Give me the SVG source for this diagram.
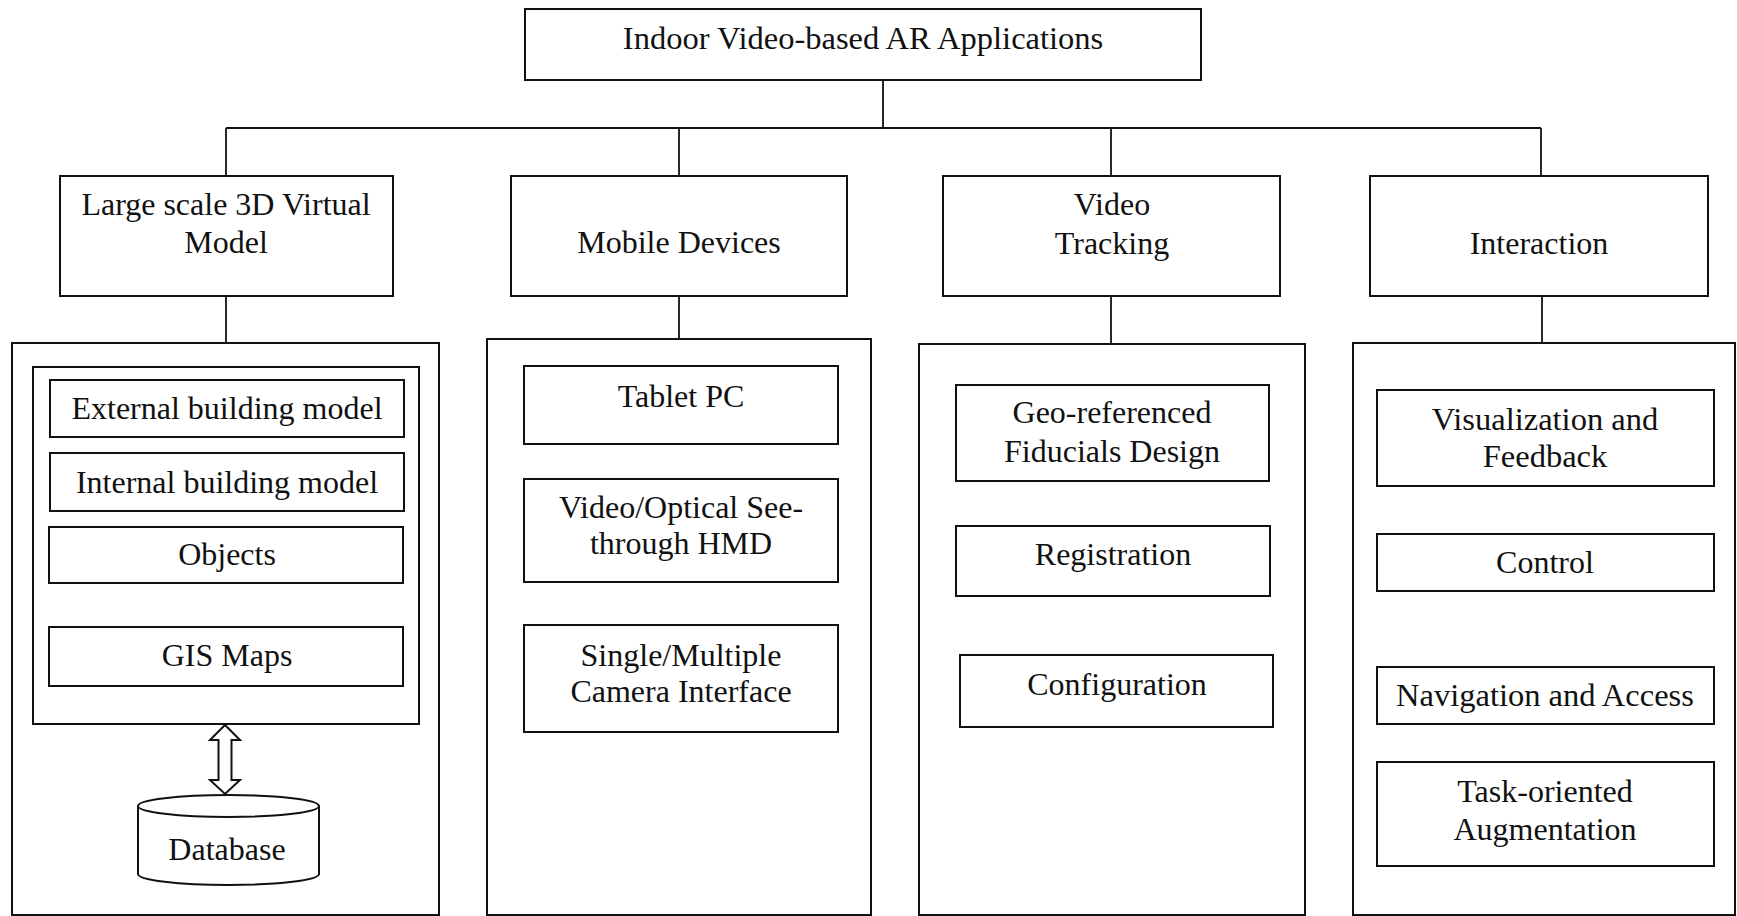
<svg xmlns="http://www.w3.org/2000/svg" width="1737" height="916" viewBox="0 0 1737 916">
  <style>
    .box { fill: #fff; stroke: #111; stroke-width: 2; }
    .frame { fill: none; stroke: #111; stroke-width: 2; }
    .link { fill: none; stroke: #111; stroke-width: 1.8; }
    text { font-family: "Liberation Serif", "Times New Roman", serif; font-size: 32px; fill: #111; text-anchor: middle; }
    .wide { font-size: 32.5px; }
  </style>
  <rect width="1737" height="916" fill="#fff"/>

  <!-- connectors -->
  <g id="connectors">
    <line class="link" x1="883" y1="80" x2="883" y2="128"/>
    <line class="link" x1="226" y1="128" x2="1541" y2="128" stroke-width="2.4"/>
    <line class="link" x1="226" y1="128" x2="226" y2="176"/>
    <line class="link" x1="679" y1="128" x2="679" y2="176"/>
    <line class="link" x1="1111" y1="128" x2="1111" y2="176"/>
    <line class="link" x1="1541" y1="128" x2="1541" y2="176"/>
    <line class="link" x1="226" y1="296" x2="226" y2="343"/>
    <line class="link" x1="679" y1="296" x2="679" y2="339"/>
    <line class="link" x1="1111" y1="296" x2="1111" y2="344"/>
    <line class="link" x1="1542" y1="296" x2="1542" y2="343"/>
    <!-- hollow double-headed arrow between model frame and database -->
    <polygon class="box" points="225,725 240,740 231.5,740 231.5,780 240,780 225,794 210,780 218.5,780 218.5,740 210,740"/>
  </g>

  <!-- root -->
  <g id="root">
    <rect class="box" x="525" y="9" width="676" height="71"/>
    <text class="wide" x="863" y="49">Indoor Video-based AR Applications</text>
  </g>

  <!-- first level -->
  <g id="virtual-model">
    <rect class="box" x="60" y="176" width="333" height="120"/>
    <text x="226" y="215">Large scale 3D Virtual</text>
    <text x="226" y="253">Model</text>
  </g>
  <g id="mobile-devices">
    <rect class="box" x="511" y="176" width="336" height="120"/>
    <text x="679" y="253">Mobile Devices</text>
  </g>
  <g id="video-tracking">
    <rect class="box" x="943" y="176" width="337" height="120"/>
    <text x="1112" y="215">Video</text>
    <text x="1112" y="254">Tracking</text>
  </g>
  <g id="interaction">
    <rect class="box" x="1370" y="176" width="338" height="120"/>
    <text x="1539" y="254">Interaction</text>
  </g>

  <!-- virtual model column -->
  <g id="virtual-model-panel">
    <rect class="frame" x="12" y="343" width="427" height="572"/>
    <rect class="frame" x="33" y="367" width="386" height="357"/>
  </g>
  <g id="external-building-model">
    <rect class="box" x="50" y="380" width="354" height="57"/>
    <text x="227" y="419">External building model</text>
  </g>
  <g id="internal-building-model">
    <rect class="box" x="50" y="453" width="354" height="58"/>
    <text x="227" y="493">Internal building model</text>
  </g>
  <g id="objects">
    <rect class="box" x="49" y="527" width="354" height="56"/>
    <text x="227" y="565">Objects</text>
  </g>
  <g id="gis-maps">
    <rect class="box" x="49" y="627" width="354" height="59"/>
    <text x="227" y="666">GIS Maps</text>
  </g>
  <g id="database">
    <path class="box" d="M138,806 A90.5,11 0 0 1 319,806 L319,874 A90.5,11 0 0 1 138,874 Z"/>
    <path class="frame" d="M138,806 A90.5,11 0 0 0 319,806"/>
    <text x="227" y="860">Database</text>
  </g>

  <!-- mobile devices column -->
  <g id="mobile-devices-panel">
    <rect class="frame" x="487" y="339" width="384" height="576"/>
  </g>
  <g id="tablet-pc">
    <rect class="box" x="524" y="366" width="314" height="78"/>
    <text x="681" y="407">Tablet PC</text>
  </g>
  <g id="hmd">
    <rect class="box" x="524" y="479" width="314" height="103"/>
    <text x="681" y="518">Video/Optical See-</text>
    <text x="681" y="554">through HMD</text>
  </g>
  <g id="camera-interface">
    <rect class="box" x="524" y="625" width="314" height="107"/>
    <text x="681" y="666">Single/Multiple</text>
    <text x="681" y="702">Camera Interface</text>
  </g>

  <!-- video tracking column -->
  <g id="video-tracking-panel">
    <rect class="frame" x="919" y="344" width="386" height="571"/>
  </g>
  <g id="fiducials-design">
    <rect class="box" x="956" y="385" width="313" height="96"/>
    <text x="1112" y="423">Geo-referenced</text>
    <text x="1112" y="462">Fiducials Design</text>
  </g>
  <g id="registration">
    <rect class="box" x="956" y="526" width="314" height="70"/>
    <text x="1113" y="565">Registration</text>
  </g>
  <g id="configuration">
    <rect class="box" x="960" y="655" width="313" height="72"/>
    <text x="1117" y="695">Configuration</text>
  </g>

  <!-- interaction column -->
  <g id="interaction-panel">
    <rect class="frame" x="1353" y="343" width="382" height="572"/>
  </g>
  <g id="visualization-feedback">
    <rect class="box" x="1377" y="390" width="337" height="96"/>
    <text class="wide" x="1545" y="430">Visualization and</text>
    <text class="wide" x="1545" y="467">Feedback</text>
  </g>
  <g id="control">
    <rect class="box" x="1377" y="534" width="337" height="57"/>
    <text x="1545" y="573">Control</text>
  </g>
  <g id="navigation-access">
    <rect class="box" x="1377" y="667" width="337" height="57"/>
    <text class="wide" x="1545" y="706">Navigation and Access</text>
  </g>
  <g id="task-augmentation">
    <rect class="box" x="1377" y="762" width="337" height="104"/>
    <text x="1545" y="802">Task-oriented</text>
    <text x="1545" y="840">Augmentation</text>
  </g>
</svg>
